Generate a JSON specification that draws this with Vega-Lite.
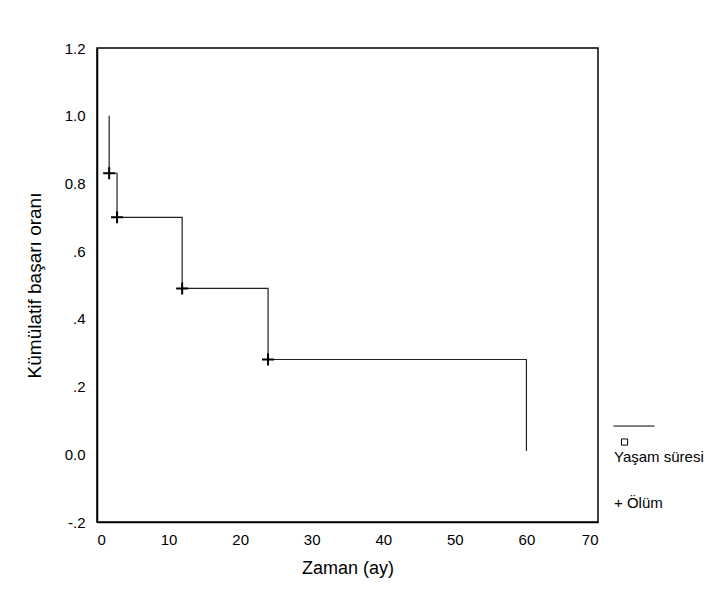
{
  "$schema": "https://vega.github.io/schema/vega-lite/v6.json",
  "autosize": {"type": "none"},
  "width": 501,
  "height": 474,
  "padding": {"left": 97, "top": 48, "right": 113, "bottom": 92},
  "background": "white",
  "config": {
    "font": "Liberation Sans",
    "view": {"stroke": "black", "strokeWidth": 1.5},
    "axis": {
      "grid": false,
      "ticks": false,
      "domainColor": "black",
      "domainWidth": 1.5,
      "labelFont": "Liberation Sans",
      "labelFontSize": 15,
      "labelColor": "black",
      "titleFont": "Liberation Sans",
      "titleFontWeight": "normal",
      "titleColor": "black"
    },
    "legend": {
      "labelFont": "Liberation Sans",
      "labelFontSize": 15,
      "labelColor": "black"
    }
  },
  "datasets": {
    "curve": [
      {"i": 0, "t": 1.7, "s": 1.0},
      {"i": 1, "t": 1.7, "s": 0.83},
      {"i": 2, "t": 2.8, "s": 0.70},
      {"i": 3, "t": 11.9, "s": 0.49},
      {"i": 4, "t": 23.9, "s": 0.28},
      {"i": 5, "t": 60.0, "s": 0.01}
    ],
    "deaths": [
      {"t": 1.7, "s": 0.83},
      {"t": 2.8, "s": 0.70},
      {"t": 11.9, "s": 0.49},
      {"t": 23.9, "s": 0.28}
    ]
  },
  "encoding": {
    "x": {
      "field": "t",
      "type": "quantitative",
      "scale": {"domain": [0, 70], "nice": false, "zero": false},
      "axis": {"values": [0, 10, 20, 30, 40, 50, 60, 70], "title": "Zaman (ay)", "titleFontSize": 18, "labelPadding": 10, "titlePadding": 12}
    },
    "y": {
      "field": "s",
      "type": "quantitative",
      "scale": {"domain": [-0.2, 1.2], "nice": false, "zero": false},
      "axis": {
        "values": [-0.2, 0, 0.2, 0.4, 0.6, 0.8, 1.0, 1.2],
        "labelExpr": "replace((datum.value > 0.7 || datum.value == 0) ? format(datum.value, '.1f') : replace(format(datum.value, '.1f'), '0.', '.'), '\u2212', '-')",
        "title": "Kümülatif başarı oranı",
        "titleFontSize": 19,
        "labelPadding": 12,
        "titlePadding": 20
      }
    }
  },
  "layer": [
    {
      "data": {"name": "curve"},
      "mark": {"type": "line", "interpolate": "step-after", "color": "#222", "strokeWidth": 1.2},
      "encoding": {"order": {"field": "i", "type": "quantitative"}}
    },
    {
      "data": {"name": "deaths"},
      "mark": {"type": "point", "filled": false, "color": "black", "strokeWidth": 2, "size": 144, "opacity": 1, "shape": "M-1,0H1M0,-1V1"}
    },
    {
      "data": {"values": []},
      "mark": {"type": "point", "filled": false, "color": "black", "opacity": 1},
      "encoding": {
        "shape": {
          "field": "k",
          "type": "nominal",
          "scale": {"domain": ["Yaşam süresi", "Ölüm"], "range": ["M-1,-1.51H1M-0.61,-0.88h0.3v0.3h-0.3z", "M0,0z"]},
          "legend": {
            "title": null,
            "orient": "none",
            "legendX": 516,
            "legendY": 388,
            "padding": 0,
            "rowPadding": 17,
            "labelOffset": -41,
            "labelExpr": "datum.index === 1 || datum.label === 'Ölüm' ? '\u00a0\u00a0+ Ölüm' : datum.label",
            "symbolSize": 1681,
            "symbolStrokeColor": "black",
            "symbolFillColor": "transparent",
            "symbolStrokeWidth": 1,
            "symbolOpacity": 1
          }
        }
      }
    }
  ]
}
